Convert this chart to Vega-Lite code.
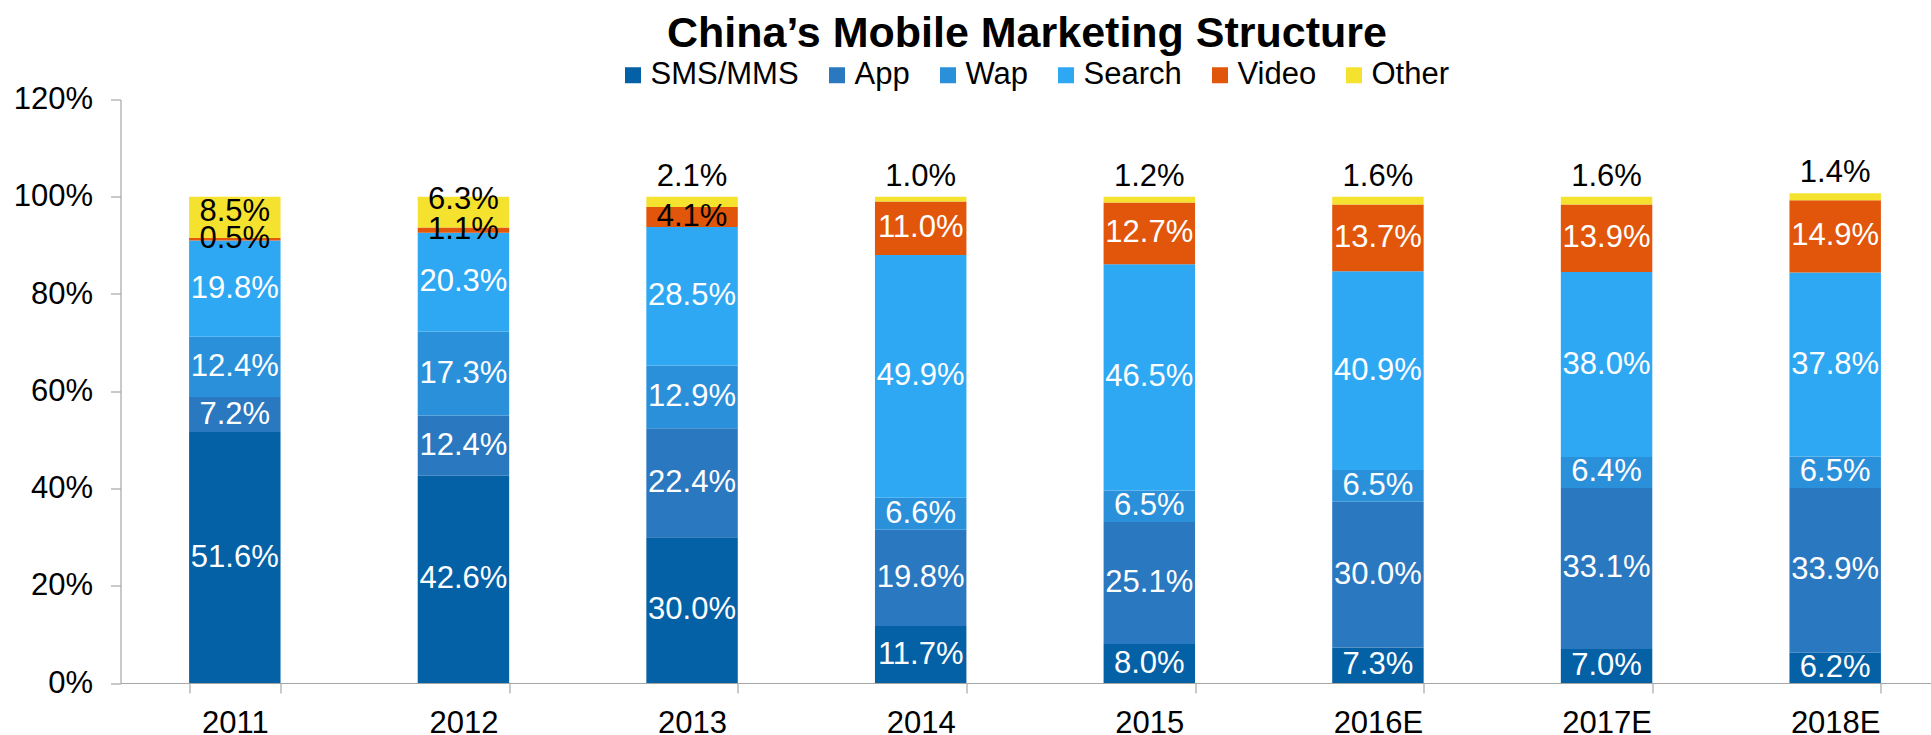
{
  "$schema": "https://vega.github.io/schema/vega-lite/v6.json",
  "autosize": "none",
  "padding": {"left": 120.5, "top": 99.5, "right": 0, "bottom": 52},
  "width": 1829,
  "height": 583.5,
  "background": "white",
  "config": {"font": "Liberation Sans", "view": {"stroke": null}},
  "title": {"text": "China’s Mobile Marketing Structure", "fontSize": 43, "fontWeight": "bold", "color": "black", "anchor": "middle", "frame": "group", "font": "Liberation Sans", "dx": -8},
  "data": {"values": [
    {"year": "2011", "cat": "SMS/MMS", "v": 0.516},
    {"year": "2011", "cat": "App", "v": 0.072},
    {"year": "2011", "cat": "Wap", "v": 0.124},
    {"year": "2011", "cat": "Search", "v": 0.198},
    {"year": "2011", "cat": "Video", "v": 0.005},
    {"year": "2011", "cat": "Other", "v": 0.085},
    {"year": "2012", "cat": "SMS/MMS", "v": 0.426},
    {"year": "2012", "cat": "App", "v": 0.124},
    {"year": "2012", "cat": "Wap", "v": 0.173},
    {"year": "2012", "cat": "Search", "v": 0.203},
    {"year": "2012", "cat": "Video", "v": 0.011},
    {"year": "2012", "cat": "Other", "v": 0.063},
    {"year": "2013", "cat": "SMS/MMS", "v": 0.300},
    {"year": "2013", "cat": "App", "v": 0.224},
    {"year": "2013", "cat": "Wap", "v": 0.129},
    {"year": "2013", "cat": "Search", "v": 0.285},
    {"year": "2013", "cat": "Video", "v": 0.041},
    {"year": "2013", "cat": "Other", "v": 0.021},
    {"year": "2014", "cat": "SMS/MMS", "v": 0.117},
    {"year": "2014", "cat": "App", "v": 0.198},
    {"year": "2014", "cat": "Wap", "v": 0.066},
    {"year": "2014", "cat": "Search", "v": 0.499},
    {"year": "2014", "cat": "Video", "v": 0.110},
    {"year": "2014", "cat": "Other", "v": 0.010},
    {"year": "2015", "cat": "SMS/MMS", "v": 0.080},
    {"year": "2015", "cat": "App", "v": 0.251},
    {"year": "2015", "cat": "Wap", "v": 0.065},
    {"year": "2015", "cat": "Search", "v": 0.465},
    {"year": "2015", "cat": "Video", "v": 0.127},
    {"year": "2015", "cat": "Other", "v": 0.012},
    {"year": "2016E", "cat": "SMS/MMS", "v": 0.073},
    {"year": "2016E", "cat": "App", "v": 0.300},
    {"year": "2016E", "cat": "Wap", "v": 0.065},
    {"year": "2016E", "cat": "Search", "v": 0.409},
    {"year": "2016E", "cat": "Video", "v": 0.137},
    {"year": "2016E", "cat": "Other", "v": 0.016},
    {"year": "2017E", "cat": "SMS/MMS", "v": 0.070},
    {"year": "2017E", "cat": "App", "v": 0.331},
    {"year": "2017E", "cat": "Wap", "v": 0.064},
    {"year": "2017E", "cat": "Search", "v": 0.380},
    {"year": "2017E", "cat": "Video", "v": 0.139},
    {"year": "2017E", "cat": "Other", "v": 0.016},
    {"year": "2018E", "cat": "SMS/MMS", "v": 0.062},
    {"year": "2018E", "cat": "App", "v": 0.339},
    {"year": "2018E", "cat": "Wap", "v": 0.065},
    {"year": "2018E", "cat": "Search", "v": 0.378},
    {"year": "2018E", "cat": "Video", "v": 0.149},
    {"year": "2018E", "cat": "Other", "v": 0.014}
  ]},
  "transform": [
    {"stack": "v", "groupby": ["year"], "as": ["y0", "y1"]},
    {"calculate": "(datum.y0 + datum.y1) / 2", "as": "ym"}
  ],
  "encoding": {
    "x": {"field": "year", "type": "nominal", "sort": null,
      "scale": {"paddingInner": 0.6, "paddingOuter": 0.3},
      "axis": {"title": null, "labelAngle": 0, "labelFontSize": 31, "labelColor": "black", "labelPadding": 15, "tickBand": "extent", "tickSize": 10, "domainColor": "#a6a6a6", "tickColor": "#a6a6a6", "domainWidth": 1.2, "tickWidth": 1.2}}
  },
  "layer": [
    {"mark": {"type": "bar"},
     "encoding": {
       "y": {"field": "y0", "type": "quantitative", "scale": {"domain": [0, 1.2], "nice": false, "zero": true},
         "axis": {"title": null, "format": ".0%", "values": [0, 0.2, 0.4, 0.6, 0.8, 1.0, 1.2], "grid": false, "labelFontSize": 31, "labelColor": "black", "labelPadding": 18, "tickSize": 10, "domainColor": "#a6a6a6", "tickColor": "#a6a6a6", "domainWidth": 1.2, "tickWidth": 1.2}},
       "y2": {"field": "y1"},
       "color": {"field": "cat", "type": "nominal",
         "scale": {"domain": ["SMS/MMS", "App", "Wap", "Search", "Video", "Other"], "range": ["#0561A6", "#2A78C0", "#2B90DA", "#2FA8F4", "#E1560B", "#F5E22F"]},
         "legend": {"orient": "none", "legendX": 497, "legendY": -40, "direction": "horizontal", "columns": 6, "gridAlign": "each", "title": null, "symbolType": "square", "symbolSize": 256, "symbolStrokeWidth": 0, "labelFontSize": 31, "labelColor": "black", "labelOffset": 2, "columnPadding": 22, "labelFont": "Liberation Sans"}}
     }},
    {"transform": [{"filter": "datum.cat != 'Other'"}],
     "mark": {"type": "text", "fontSize": 31, "baseline": "middle", "align": "center"},
     "encoding": {
       "y": {"field": "ym", "type": "quantitative"},
       "text": {"field": "v", "type": "quantitative", "format": ".1%"},
       "color": {"condition": {"test": "datum.v < 0.05", "value": "black"}, "value": "white"}
     }},
    {"transform": [{"filter": "datum.cat == 'Other' && datum.year == '2011'"}],
     "mark": {"type": "text", "fontSize": 31, "baseline": "alphabetic", "align": "center", "dy": 24, "color": "black"},
     "encoding": {"y": {"field": "y1", "type": "quantitative"},
       "text": {"field": "v", "type": "quantitative", "format": ".1%"}}},
    {"transform": [{"filter": "datum.cat == 'Other' && datum.year == '2012'"}],
     "mark": {"type": "text", "fontSize": 31, "baseline": "alphabetic", "align": "center", "dy": 12, "color": "black"},
     "encoding": {"y": {"field": "y1", "type": "quantitative"},
       "text": {"field": "v", "type": "quantitative", "format": ".1%"}}},
    {"transform": [{"filter": "datum.cat == 'Other' && datum.year != '2011' && datum.year != '2012'"}],
     "mark": {"type": "text", "fontSize": 31, "baseline": "alphabetic", "align": "center", "dy": -11, "color": "black"},
     "encoding": {"y": {"field": "y1", "type": "quantitative"},
       "text": {"field": "v", "type": "quantitative", "format": ".1%"}}}
  ]
}
